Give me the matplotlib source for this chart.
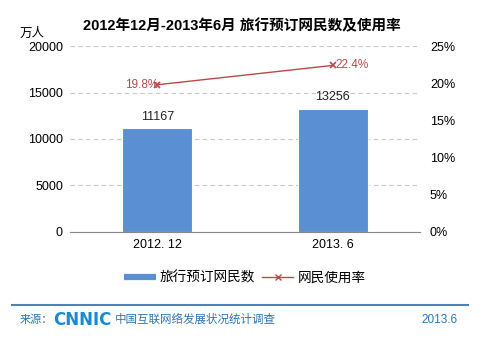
import matplotlib.pyplot as plt
import numpy as np

plt.rcParams['font.family'] = ['Liberation Sans', 'Noto Sans CJK SC', 'DejaVu Sans']

periods = ['2012. 12', '2013. 6']
users = [11167, 13256]          # 万人
usage_rate = [19.8, 22.4]       # %

bar_color = '#5a8fd4'
line_color = '#b94a48'
footer_blue = '#2e75b6'

fig = plt.figure(figsize=(4.96, 3.39), dpi=100)
ax = fig.add_axes([0.141, 0.316, 0.706, 0.548])
ax2 = ax.twinx()

x = np.arange(len(periods))
ax.bar(x, users, width=0.4, color=bar_color, edgecolor='white', linewidth=0.8, zorder=2)
for xi, v in zip(x, users):
    ax.text(xi, v + 600, str(v), ha='center', va='bottom', fontsize=9, color='#222222')

ax.set_xlim(-0.5, 1.5)
ax.set_ylim(0, 20000)
ax.set_yticks(np.arange(0, 20001, 5000))
ax.yaxis.grid(True, linestyle=(0, (4, 3)), color='#c8c8c8', linewidth=0.8)
ax.set_axisbelow(True)
ax.set_xticks(x)
ax.set_xticklabels(periods)
ax.tick_params(axis='both', length=0, labelsize=9, pad=5)
for side in ['left', 'right', 'top']:
    ax.spines[side].set_visible(False)
ax.spines['bottom'].set_color('#888888')
ax.spines['bottom'].set_linewidth(0.8)

ax2.plot(x, usage_rate, color=line_color, marker='x', markersize=5, markeredgewidth=1.2,
         linewidth=1.0, zorder=3)
ax2.set_ylim(0, 25)
ax2.set_yticks(np.arange(0, 26, 5))
ax2.set_yticklabels([f'{t}%' for t in range(0, 26, 5)])
ax2.tick_params(axis='y', length=0, labelsize=9, pad=7)
for side in ['left', 'right', 'top', 'bottom']:
    ax2.spines[side].set_visible(False)
ax2.text(x[0] + 0.005, usage_rate[0], f'{usage_rate[0]}%', ha='right', va='center',
         fontsize=8.5, color=line_color)
ax2.text(x[1] + 0.015, usage_rate[1], f'{usage_rate[1]}%', ha='left', va='center',
         fontsize=8.5, color=line_color)

fig.text(0.488, 0.922, '2012年12月-2013年6月 旅行预订网民数及使用率', ha='center', va='center',
         fontsize=10.5, fontweight='bold')
fig.text(0.064, 0.9, '万人', ha='center', va='center', fontsize=9)

# legend
bar_handle = plt.Line2D([], [], color=bar_color, linewidth=4.5, solid_capstyle='butt')
line_handle = plt.Line2D([], [], color=line_color, marker='x', markersize=5, linewidth=1.0)
ax.legend([bar_handle, line_handle], ['旅行预订网民数', '网民使用率'], loc='center',
          bbox_to_anchor=(0.5, -0.245), ncol=2, frameon=False, fontsize=9.8,
          handlelength=2.3, handletextpad=0.3, columnspacing=0.5)

# footer
fig.add_artist(plt.Line2D([0.024, 0.944], [0.1, 0.1], color='#4f81bd', linewidth=1.5))
fig.text(0.04, 0.057, '来源：', ha='left', va='center', fontsize=8, color=footer_blue)
fig.text(0.108, 0.057, 'CNNIC', ha='left', va='center', fontsize=12, fontweight='bold',
         color='#1a8ad0', family='DejaVu Sans')
fig.text(0.232, 0.057, '中国互联网络发展状况统计调查', ha='left', va='center', fontsize=8.3,
         color=footer_blue)
fig.text(0.923, 0.057, '2013.6', ha='right', va='center', fontsize=8.5, color=footer_blue)

fig.savefig('out.png', dpi=100)
